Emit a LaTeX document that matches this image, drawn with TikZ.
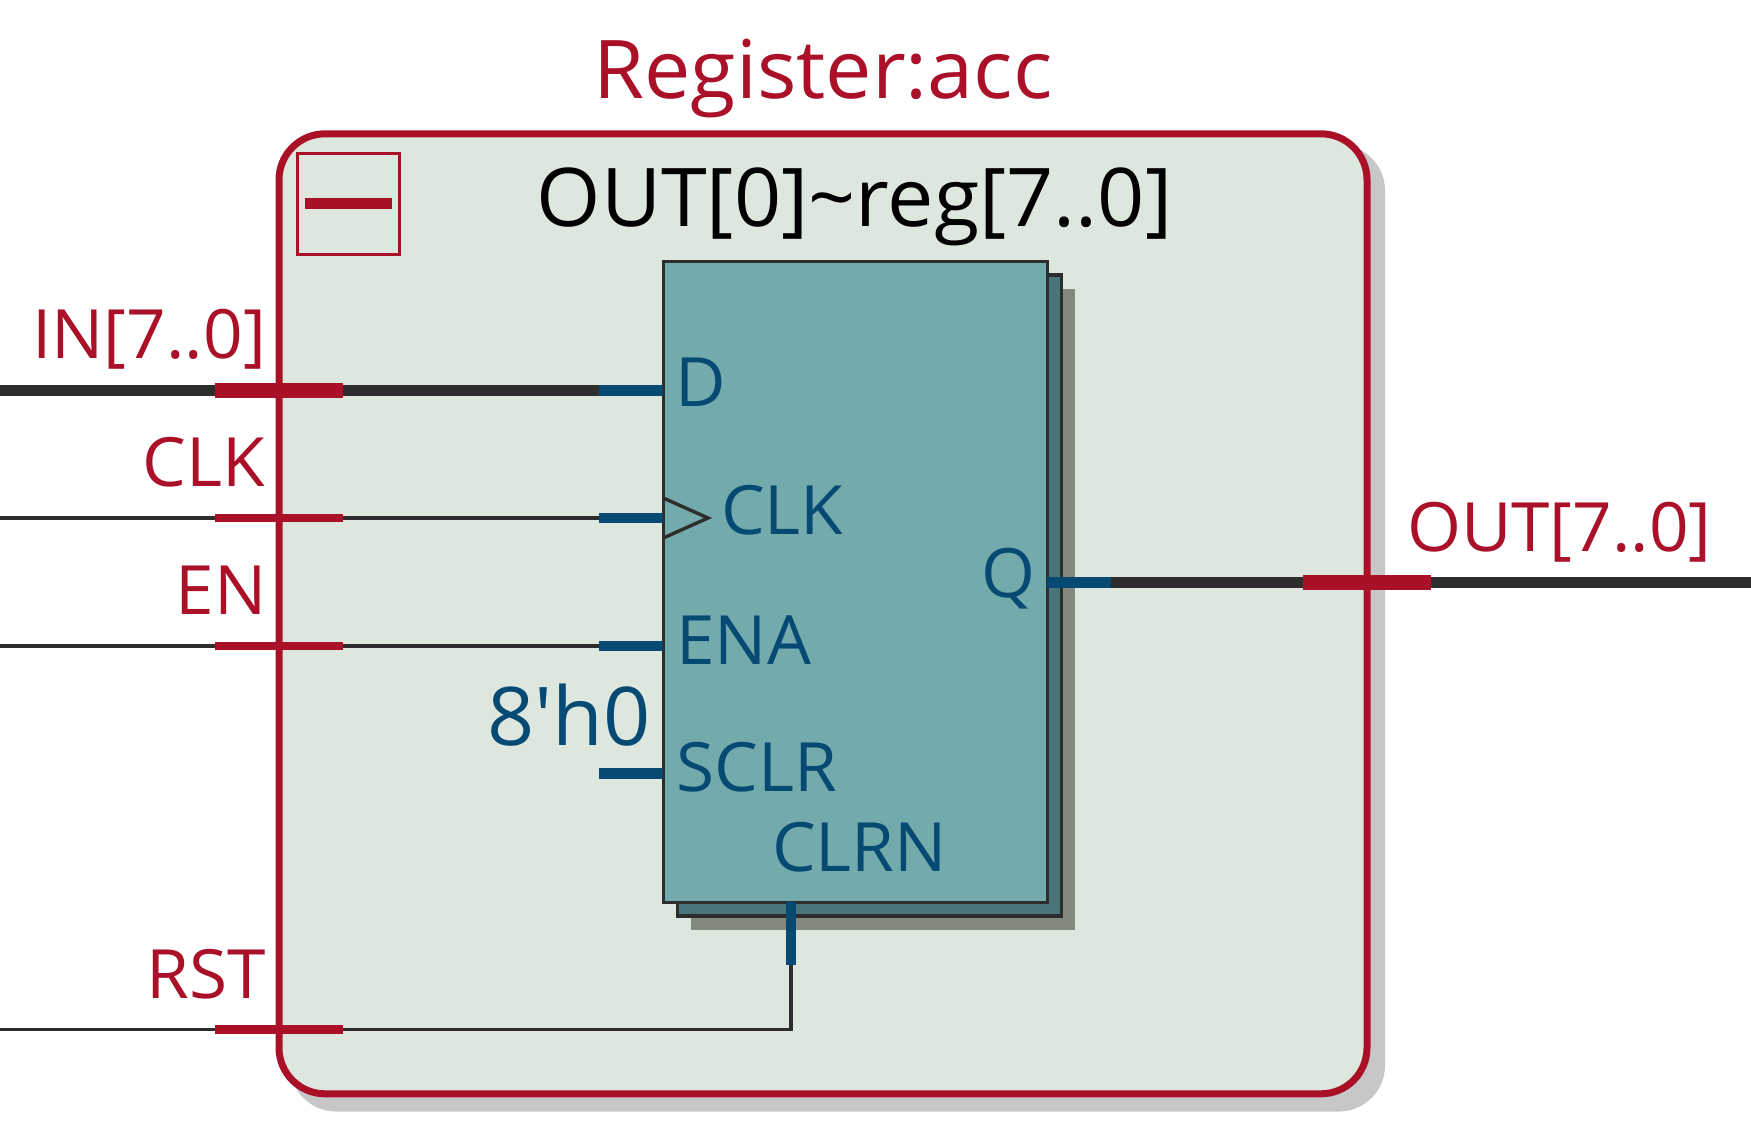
\documentclass[tikz,border=0pt]{standalone}
\usepackage{fontspec}
\setmainfont[FakeStretch=1.02]{Open Sans}
\newfontfamily\plainfont[FakeStretch=1.02]{Open Sans}
\usetikzlibrary{positioning}
\definecolor{accred}{HTML}{AB1029}
\definecolor{boxfill}{HTML}{DDE7DE}
\definecolor{regfill}{HTML}{73ABAC}
\definecolor{regback}{HTML}{47757A}
\definecolor{regshadow}{HTML}{828A80}
\definecolor{pinblue}{HTML}{064A73}
\definecolor{wiregray}{HTML}{2D2D2D}
\tikzstyle{bus} = [wiregray,line width=10.8pt]
\tikzstyle{wire} = [wiregray,line width=3.6pt]
\tikzstyle{stub} = [pinblue,line width=10.8pt]
\tikzset{
  plate/.style={rectangle, outer sep=0pt, inner sep=0pt},
  mark bus/.style={plate, fill=accred, minimum width=128pt, minimum height=15pt},
  mark wire/.style={plate, fill=accred, minimum width=128pt, minimum height=8.7pt},
  big/.style={inner sep=0pt, font=\fontsize{81}{90}\selectfont},
  small/.style={inner sep=0pt, font=\fontsize{68}{80}\selectfont},
  redtxt/.style={small, text=accred, anchor=base east},
  bluetxt/.style={small, text=pinblue, anchor=base west}
}

\begin{document}
\begin{tikzpicture}[x=1pt, y=-1pt]
  \useasboundingbox (0,0) rectangle (1751,1135);

  % Block with its shadow
  \node[plate, fill=black!22, rounded corners=46pt, minimum width=1095pt, minimum height=967pt] (accshadow) at (837.5,628) {};
  \node[plate, draw=accred, fill=boxfill, line width=7pt, rounded corners=46pt, minimum width=1088pt, minimum height=960pt] (acc) at (823,613.8) {};
  \node[plate, draw=accred, line width=3pt, minimum width=101.6pt, minimum height=101pt] (fold) at (348.5,203.5) {};
  \node[plate, fill=accred, minimum width=87pt, minimum height=11pt] (foldbar) at (fold.center) {};

  % Register, stacked
  \node[plate, fill=regshadow, minimum width=384pt, minimum height=641pt] (reg3) at (882.8,609.2) {};
  \node[plate, draw=wiregray, fill=regback, line width=3.4pt, minimum width=384pt, minimum height=641pt] (reg2) at (869.4,595.5) {};
  \node[plate, draw=wiregray, fill=regfill, line width=3.4pt, minimum width=384pt, minimum height=641pt] (reg) at (855.3,581.8) {};

  % Free ends
  \coordinate (inL) at (0,390.6);
  \coordinate (clkL) at (0,518);
  \coordinate (enL) at (0,646);
  \coordinate (rstL) at (0,1029.6);
  \coordinate (outR) at (1751,582.5);
  \coordinate (stubD) at (599,390.6);
  \coordinate (stubC) at (599,518);
  \coordinate (stubE) at (599,646);
  \coordinate (stubS) at (599,773.6);
  \coordinate (stubR) at (791,965);
  \coordinate (stubQ) at (1111,582.5);
  \coordinate (tipC) at (708,518);
  \coordinate (tipA) at (663.3,498);
  \coordinate (tipB) at (663.3,538);

  % Port marks
  \node[mark bus] (mkin) at (279,390.6) {};
  \node[mark wire] (mkclk) at (279,518) {};
  \node[mark wire] (mken) at (279,646) {};
  \node[mark wire] (mkrst) at (279,1029.6) {};
  \node[mark bus] (mkout) at (1367,582.5) {};

  % Wires
  \draw[bus] (inL) -- (mkin);
  \draw[bus] (mkin) -- (stubD);
  \draw[wire] (clkL) -- (mkclk);
  \draw[wire] (mkclk) -- (stubC);
  \draw[wire] (enL) -- (mken);
  \draw[wire] (mken) -- (stubE);
  \draw[wire] (rstL) -- (mkrst);
  \draw[wire] (mkrst) -| (stubR);
  \draw[bus] (stubQ) -- (mkout);
  \draw[bus] (mkout) -- (outR);

  % Register pins
  \draw[stub] (stubD) -- (reg.west |- stubD);
  \draw[stub] (stubC) -- (reg.west |- stubC);
  \draw[stub] (stubE) -- (reg.west |- stubE);
  \draw[stub] (stubS) -- (reg.west |- stubS);
  \draw[stub] (reg.east |- stubQ) -- (stubQ);
  \draw[stub] (reg.south -| stubR) -- (stubR);
  \draw[wiregray, line width=3.4pt] (tipA) -- (tipC) -- (tipB);

  % Titles
  \node[big, text=accred, anchor=base] (title) at (823,98) {Register:acc};
  \node[big, text=black, anchor=base] (regname) at (854.5,226) {OUT[0]\char"7E reg[7..0]};
  \node[big, text=pinblue, anchor=base east] (init) at (651,745) {\plainfont 8'h0};

  % Port names
  \node[redtxt] (lblin) at (266,358) {IN[7..0]};
  \node[redtxt] (lblclk) at (265,486) {CLK};
  \node[redtxt] (lblen) at (267,614) {EN};
  \node[redtxt] (lblrst) at (266,998) {RST};
  \node[redtxt] (lblout) at (1712,551) {OUT[7..0]};

  % Pin names
  \node[bluetxt] (pind) at (675,406) {D};
  \node[bluetxt] (pinclk) at (721,534.5) {CLK};
  \node[bluetxt] (pinena) at (676,664) {ENA};
  \node[bluetxt] (pinsclr) at (676,791) {SCLR};
  \node[bluetxt] (pinclrn) at (772,871) {CLRN};
  \node[small, text=pinblue, anchor=base east] (pinq) at (1036,597) {Q};
\end{tikzpicture}
\end{document}
